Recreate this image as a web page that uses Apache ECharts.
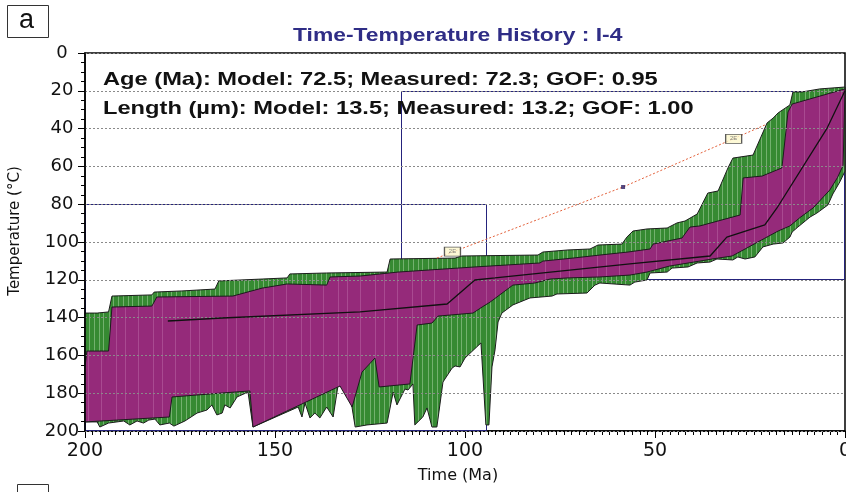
<!DOCTYPE html>
<html>
<head>
<meta charset="utf-8">
<title>Time-Temperature History : I-4</title>
<script src="https://cdn.jsdelivr.net/npm/echarts@6/dist/echarts.min.js"></script>
<style>
  html, body { margin: 0; padding: 0; background: #fff; }
  #chart { width: 846px; height: 492px; }
</style>
</head>
<body>
<div id="chart"></div>
<script>
// all points are [time (Ma), temperature (°C)]
const timeTicks = [200, 150, 100, 50, 0];
const tempTicks = [0, 20, 40, 60, 80, 100, 120, 140, 160, 180, 200];

// acceptable fit envelope (green): top edge left->right, bottom edge right->left
const acceptTop = [[200,137.6],[196.8,137.6],[193.8,137.0],[192.9,128.6],[182.4,128.0],[181.8,126.5],[174.5,125.9],[165.8,124.9],[164.8,120.6],[153.4,119.6],[146.8,119.0],[146.1,116.9],[136.4,116.4],[120.5,115.9],[119.7,109.0],[102.6,108.5],[100.8,107.4],[80.8,106.9],[79.5,105.3],[72.9,104.2],[67.1,103.7],[65.0,101.6],[58.7,101.1],[57.4,97.4],[55.8,94.2],[52.1,93.1],[46.8,92.6],[44.2,89.9],[42.1,88.9],[38.9,85.2],[36.1,74.1],[33.4,73.0],[30.8,60.8],[29.5,55.6],[24.2,54.0],[20.5,37.0],[18.9,34.4],[17.6,31.7],[14.5,27.5],[13.7,20.6],[11.3,20.6],[6.6,19.0],[0,18.0]];
const acceptBottom = [[0,62.5],[1.3,68.0],[3.2,74.6],[4.5,80.4],[7.4,84.7],[9.2,86.8],[12.4,92.1],[13.9,94.7],[14.5,97.4],[16.3,100.5],[18.9,101.1],[21.6,102.6],[23.7,107.9],[26.3,109.0],[28.2,107.9],[29.5,109.5],[33.7,109.0],[35.5,110.6],[38.9,111.1],[41.3,113.2],[45.5,113.8],[46.8,115.9],[51.3,116.4],[52.1,120.1],[55.3,121.2],[56.6,122.8],[64.5,121.7],[65.8,122.8],[67.9,127.0],[75.8,127.5],[77.1,128.6],[82.9,129.6],[87.4,133.3],[90.3,137.6],[91.3,142.3],[92.1,157.1],[92.9,166.1],[93.7,196.8],[94.5,196.8],[95.8,153.4],[100.0,161.4],[101.3,166.1],[102.6,165.6],[103.4,166.7],[105.8,174.1],[107.4,197.9],[108.7,197.9],[110.0,187.8],[111.1,192.6],[113.2,196.8],[113.7,175.1],[115.0,178.3],[115.8,177.8],[117.9,186.2],[118.9,179.4],[120.5,195.8],[125.8,196.8],[128.9,197.9],[129.7,187.8],[130.8,176.2],[132.1,177.2],[133.4,175.7],[134.7,192.6],[136.4,187.3],[138.2,193.1],[139.5,190.5],[140.8,193.1],[142.1,185.2],[142.9,192.6],[143.9,187.3],[155.8,197.9],[157.1,179.4],[160.0,182.0],[161.8,187.8],[163.2,186.2],[163.9,190.5],[165.3,191.5],[166.6,186.2],[167.9,188.9],[170.5,190.5],[173.7,194.7],[176.6,197.4],[177.8,195.8],[180.3,196.8],[181.6,193.7],[183.2,194.2],[184.6,195.8],[186.3,194.7],[188.2,196.8],[189.8,194.7],[193.8,195.8],[196.1,197.9],[196.8,195.2],[200,195.2]];

// good fit envelope (magenta)
const goodTop = [[200,166.1],[199.5,157.7],[193.8,157.7],[192.9,134.4],[182.4,133.9],[181.1,129.1],[161.1,128.6],[153.4,124.4],[146.8,122.2],[136.4,122.8],[135.5,118.5],[127.6,118.0],[117.6,115.9],[97.4,113.2],[80.3,111.1],[79.5,110.1],[71.6,108.5],[64.5,106.9],[57.1,105.3],[51.3,103.7],[50.5,101.1],[42.9,97.9],[40.8,92.1],[38.2,91.5],[27.6,85.7],[26.8,66.1],[21.8,65.1],[16.6,60.8],[15.0,31.2],[13.9,27.0],[6.6,22.8],[0,19.0]];
const goodBottom = [[0.5,59.5],[2.0,66.0],[4.0,72.5],[8.4,82.0],[11.8,87.0],[14.5,91.5],[17.6,94.2],[21.1,98.0],[26.3,103.7],[29.7,107.4],[35.0,109.0],[38.2,110.1],[46.1,112.7],[52.1,115.9],[56.6,117.5],[64.5,118.5],[72.9,119.0],[77.6,119.6],[81.6,121.7],[87.4,122.8],[93.4,131.8],[95.5,134.4],[97.9,137.6],[107.1,139.2],[108.7,142.9],[112.6,143.9],[114.5,175.1],[122.6,176.7],[123.7,161.4],[127.1,168.8],[129.7,187.3],[132.9,176.2],[155.8,197.9],[156.6,178.8],[163.9,179.9],[177.1,182.0],[177.8,192.6],[200,195.2]];

// best fit path
const bestPath = [[178.2,141.8],[163.9,140.2],[127.6,137.0],[104.7,132.8],[97.4,120.1],[92.1,119.0],[56.6,111.6],[35.5,107.4],[35.0,106.9],[31.1,97.4],[21.1,91.0],[17.9,82.0],[4.7,39.7],[0,20.0]];

// red dotted path, its node and the "2E" flags
const dotPath = [[107.4,108.5],[58.4,70.9],[21.1,38.1]];
const dotNode = [[58.4,70.9]];
const flags = [[103.3,105.1],[29.3,45.4]];

// constraint boxes: [t_old, t_young, T_low, T_high]
const boxes = [[200,94.2,80,200],[116.8,0,20,120]];

// fit statistics: model, measured, GOF
const ageFit = [72.5, 72.3, 0.95];
const lengthFit = [13.5, 13.2, 1.00];

const FONT = 'Liberation Sans, Arial, sans-serif';
const WIDE = 'DejaVu Sans, Liberation Sans, sans-serif';

// light vertical streaks seen in the envelopes
function streaks(base, line, width, xs) {
  const c = document.createElement('canvas');
  c.width = width; c.height = 4;
  const g = c.getContext('2d');
  g.fillStyle = base; g.fillRect(0, 0, width, 4);
  g.fillStyle = line;
  xs.forEach(x => g.fillRect(x, 0, 1, 4));
  return { image: c, repeat: 'repeat' };
}
const greenFill = streaks('#368a32', 'rgba(190,225,185,0.45)', 29, [2, 7, 12, 16, 22, 26]);
const pinkFill = streaks('#952a7a', 'rgba(215,150,200,0.30)', 37, [5, 14, 27]);

function envelope(top, bottom, fill) {
  const pts = top.concat(bottom);
  return {
    type: 'custom', z: 3, silent: true,
    data: [[100, 100]],
    renderItem: (params, api) => ({
      type: 'polygon',
      shape: { points: pts.map(p => api.coord(p)) },
      style: { fill: fill, stroke: '#1c1c1c', lineWidth: 1 }
    })
  };
}

const chart = echarts.init(document.getElementById('chart'));
chart.setOption({
  animation: false,
  backgroundColor: '#fff',
  textStyle: { fontFamily: FONT },
  grid: {
    left: 85, right: 1, top: 53, bottom: 61,
    outerBoundsMode: 'none', containLabel: false,
    show: true, borderColor: '#000', borderWidth: 1.5, backgroundColor: '#fff'
  },
  xAxis: {
    type: 'value', inverse: true,
    min: timeTicks[timeTicks.length - 1], max: timeTicks[0], interval: 50,
    name: 'Time (Ma)', nameLocation: 'middle', nameGap: 37,
    nameTextStyle: { fontSize: 16, color: '#111', fontFamily: WIDE, padding: [0, 14, 0, 0] },
    axisLine: { onZero: false, lineStyle: { color: '#000', width: 1.5 } },
    axisTick: { length: 7, lineStyle: { color: '#000' } },
    minorTick: { show: true, splitNumber: 25, length: 4, lineStyle: { color: '#000' } },
    axisLabel: { fontSize: 19, color: '#111', margin: 11, fontFamily: WIDE },
    splitLine: { show: false }
  },
  yAxis: {
    type: 'value', inverse: true, z: 5,
    min: tempTicks[0], max: tempTicks[tempTicks.length - 1], interval: 20,
    name: 'Temperature (°C)', nameLocation: 'middle', nameGap: 62,
    nameTextStyle: { fontSize: 15, color: '#111', fontFamily: WIDE, padding: [0, 0, 0, 22] },
    axisLine: { onZero: false, lineStyle: { color: '#000', width: 1.5 } },
    axisTick: { length: 7, lineStyle: { color: '#000' } },
    minorTick: { show: true, splitNumber: 4, length: 4, lineStyle: { color: '#000' } },
    axisLabel: { fontSize: 18, color: '#111', margin: 23, align: 'center', fontFamily: WIDE },
    splitLine: { show: true, lineStyle: { color: '#8a8a8a', type: [2, 2], width: 1 } }
  },
  graphic: [
    { type: 'rect', left: 7, top: 5, shape: { width: 41, height: 32 }, style: { fill: '#fff', stroke: '#333', lineWidth: 1 } },
    { type: 'text', left: 19, top: 7, style: { text: 'a', font: '27px ' + FONT, fill: '#111' } },
    { type: 'rect', left: 17, top: 484, shape: { width: 31, height: 20 }, style: { fill: '#fff', stroke: '#333', lineWidth: 1 } },
    { type: 'text', x: 293, y: 27, scaleX: 1.27, z: 20, style: { text: 'Time-Temperature History : I-4', font: 'bold 18px ' + FONT, fill: '#2f2d86', verticalAlign: 'top' } },
    { type: 'text', x: 103, y: 70, scaleX: 1.245, z: 20, style: { text: 'Age (Ma): Model: ' + ageFit[0].toFixed(1) + '; Measured: ' + ageFit[1].toFixed(1) + '; GOF: ' + ageFit[2].toFixed(2), font: 'bold 19px ' + FONT, fill: '#111', verticalAlign: 'top' } },
    { type: 'text', x: 103, y: 99, scaleX: 1.245, z: 20, style: { text: 'Length (\u00b5m): Model: ' + lengthFit[0].toFixed(1) + '; Measured: ' + lengthFit[1].toFixed(1) + '; GOF: ' + lengthFit[2].toFixed(2), font: 'bold 19px ' + FONT, fill: '#111', verticalAlign: 'top' } }
  ],
  series: [
    {
      type: 'custom', z: 1, silent: true,
      data: boxes,
      encode: { x: [0, 1], y: [2, 3] },
      renderItem: (params, api) => {
        const a = api.coord([api.value(0), api.value(2)]);
        const b = api.coord([api.value(1), api.value(3)]);
        const x0 = Math.round(Math.min(a[0], b[0])) + 0.5, y0 = Math.round(Math.min(a[1], b[1])) + 0.5;
        const x1 = Math.round(Math.max(a[0], b[0])) - 0.5, y1 = Math.round(Math.max(a[1], b[1])) - 0.5;
        return {
          type: 'rect',
          shape: { x: x0, y: y0, width: x1 - x0, height: y1 - y0 },
          style: { fill: 'none', stroke: '#25237c', lineWidth: 1 }
        };
      }
    },
    envelope(acceptTop, acceptBottom, greenFill),
    envelope(goodTop, goodBottom, pinkFill),
    {
      type: 'line', z: 8, data: bestPath, showSymbol: false, silent: true,
      lineStyle: { color: '#111', width: 1.3 }
    },
    {
      type: 'line', z: 8, data: dotPath, showSymbol: false, silent: true,
      lineStyle: { color: '#e4623c', width: 1, type: [2, 2] }
    },
    {
      type: 'scatter', z: 9, data: dotNode, symbol: 'rect', symbolSize: 4, silent: true,
      itemStyle: { color: '#2b1d62' }
    },
    {
      type: 'scatter', z: 9, data: flags, symbol: 'rect', symbolSize: [16, 9], silent: true,
      itemStyle: { color: '#fcf8cc', borderColor: '#333', borderWidth: 1 },
      label: { show: true, position: 'inside', formatter: '2E', fontSize: 6, color: '#666' }
    }
  ]
});
</script>
</body>
</html>
